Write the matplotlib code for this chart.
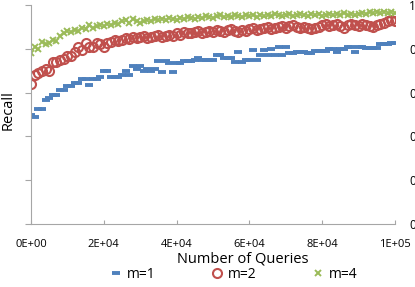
import matplotlib
matplotlib.use("Agg")
import matplotlib.pyplot as plt
import numpy as np

# number of queries (x) and recall for each m
queries = np.arange(0, 100001, 1000)

recall_m1 = [0.50, 0.49, 0.525, 0.525, 0.565, 0.575, 0.59, 0.59, 0.61, 0.61,
             0.63, 0.63, 0.645, 0.645, 0.66, 0.66, 0.635, 0.66, 0.66, 0.67,
             0.70, 0.70, 0.67, 0.67, 0.67, 0.68, 0.70, 0.68, 0.72, 0.71,
             0.72, 0.70, 0.71, 0.70, 0.71, 0.745, 0.695, 0.745, 0.735, 0.695,
             0.735, 0.735, 0.745, 0.745, 0.745, 0.75, 0.76, 0.75, 0.75, 0.75,
             0.75, 0.77, 0.77, 0.76, 0.76, 0.76, 0.74, 0.785, 0.74, 0.75,
             0.75, 0.795, 0.75, 0.77, 0.795, 0.77, 0.80, 0.77, 0.81, 0.77,
             0.81, 0.78, 0.78, 0.785, 0.785, 0.785, 0.78, 0.78, 0.79, 0.79,
             0.79, 0.79, 0.80, 0.80, 0.785, 0.80, 0.80, 0.81, 0.81, 0.785,
             0.81, 0.81, 0.805, 0.805, 0.805, 0.805, 0.82, 0.82, 0.82, 0.825,
             0.825]

recall_m2 = [0.64, 0.68, 0.69, 0.70, 0.71, 0.70, 0.74, 0.74, 0.75, 0.755,
             0.765, 0.765, 0.785, 0.81, 0.795, 0.825, 0.81, 0.81, 0.825, 0.82,
             0.81, 0.825, 0.83, 0.84, 0.835, 0.84, 0.85, 0.845, 0.855, 0.85,
             0.855, 0.86, 0.85, 0.855, 0.86, 0.865, 0.855, 0.86, 0.865, 0.86,
             0.87, 0.865, 0.875, 0.87, 0.87, 0.875, 0.88, 0.87, 0.875, 0.88,
             0.875, 0.885, 0.88, 0.875, 0.885, 0.89, 0.88, 0.875, 0.885, 0.88,
             0.89, 0.895, 0.885, 0.89, 0.895, 0.90, 0.89, 0.895, 0.90, 0.905,
             0.895, 0.905, 0.91, 0.90, 0.895, 0.90, 0.895, 0.89, 0.895, 0.90,
             0.91, 0.915, 0.905, 0.91, 0.915, 0.905, 0.895, 0.91, 0.915, 0.91,
             0.905, 0.915, 0.91, 0.905, 0.90, 0.91, 0.915, 0.92, 0.925, 0.93,
             0.925]

recall_m4 = [0.78, 0.81, 0.80, 0.83, 0.82, 0.825, 0.84, 0.835, 0.86, 0.87,
             0.88, 0.875, 0.885, 0.88, 0.895, 0.89, 0.91, 0.895, 0.905, 0.91,
             0.905, 0.915, 0.91, 0.92, 0.915, 0.925, 0.93, 0.92, 0.935, 0.925,
             0.92, 0.925, 0.93, 0.925, 0.935, 0.93, 0.935, 0.93, 0.94, 0.935,
             0.93, 0.94, 0.935, 0.945, 0.94, 0.935, 0.945, 0.94, 0.95, 0.945,
             0.94, 0.95, 0.955, 0.945, 0.95, 0.945, 0.955, 0.95, 0.945, 0.955,
             0.95, 0.955, 0.945, 0.955, 0.95, 0.955, 0.95, 0.96, 0.955, 0.95,
             0.955, 0.96, 0.95, 0.955, 0.96, 0.955, 0.95, 0.96, 0.955, 0.96,
             0.95, 0.955, 0.96, 0.955, 0.96, 0.955, 0.965, 0.955, 0.96, 0.955,
             0.96, 0.965, 0.96, 0.97, 0.965, 0.97, 0.965, 0.97, 0.965, 0.97,
             0.965]

xticks = [0, 20000, 40000, 60000, 80000, 100000]
xtick_labels = ["0E+00", "2E+04", "4E+04", "6E+04", "8E+04", "1E+05"]
yticks = [0, 0.2, 0.4, 0.6, 0.8, 1.0]
ytick_labels = ["0", "0,2", "0,4", "0,6", "0,8", "1"]

plt.rcParams["font.family"] = ["Open Sans", "DejaVu Sans"]

fig = plt.figure(figsize=(4.15, 2.87), dpi=100)
ax = fig.add_axes([31 / 415, 1 - 224 / 287, 364 / 415, 219 / 287])

ax.plot(queries, recall_m1, linestyle="none", marker="_", ms=6, mew=2.8,
        color="#4f81bd", label="m=1")
ax.plot(queries, recall_m2, linestyle="none", marker="o", ms=6.5, mew=1.5,
        mfc="none", mec="#c0504d", label="m=2")
ax.plot(queries, recall_m4, linestyle="none", marker="x", ms=5.0, mew=1.4,
        color="#9bbb59", label="m=4")

ax.set_xlim(0, 100000)
ax.set_ylim(0, 1)
ax.set_xticks(xticks)
ax.set_xticklabels(xtick_labels, fontsize=8)
ax.set_yticks(yticks)
ax.set_yticklabels(ytick_labels, fontsize=8.5)

for side in ["top", "right"]:
    ax.spines[side].set_visible(False)
for side in ["left", "bottom"]:
    ax.spines[side].set_color("#a6a6a6")

# x ticks point inwards, y labels sit on the right (cut by the edge)
ax.tick_params(axis="x", direction="in", length=3, color="#a6a6a6", pad=11)
ax.tick_params(axis="y", direction="out", length=4, color="#a6a6a6",
               left=True, right=False, labelleft=False, labelright=True, pad=6)

fig.text(8 / 415, 1 - 110 / 287, "Recall", rotation=90, fontsize=10.5,
         ha="center", va="center")
fig.text(243 / 415, 1 - 259 / 287, "Number of Queries", fontsize=10.5,
         ha="center", va="center")

fig.legend(loc="center", bbox_to_anchor=(233 / 415, 1 - 274 / 287), ncol=3,
           frameon=False, fontsize=10, handlelength=1.0, handletextpad=0.3,
           columnspacing=3.9, borderpad=0)

fig.savefig("out.png", dpi=100)
